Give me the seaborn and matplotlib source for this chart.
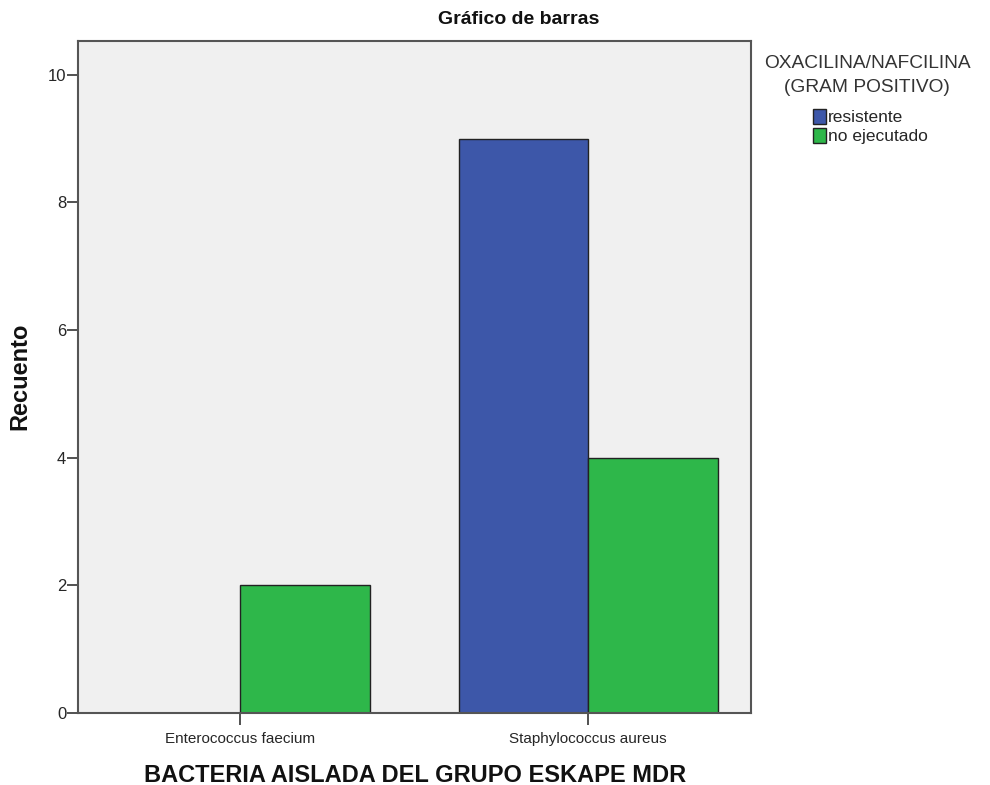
import matplotlib
matplotlib.use("Agg")
import matplotlib.pyplot as plt
import seaborn as sns
import pandas as pd
from matplotlib.patches import Patch

categories = ["Enterococcus faecium", "Staphylococcus aureus"]
series = ["resistente", "no ejecutado"]
resistente = [0, 9]
no_ejecutado = [2, 4]
colors = ["#3d57a9", "#2eb74a"]

rows = []
for i, c in enumerate(categories):
    rows.append({"cat": c, "grp": series[0], "n": resistente[i]})
    rows.append({"cat": c, "grp": series[1], "n": no_ejecutado[i]})
df = pd.DataFrame(rows)

sns.set_theme(style="white")
plt.rcParams["font.family"] = ["Liberation Sans", "DejaVu Sans"]

fig = plt.figure(figsize=(9.9, 7.85), dpi=100)
ax = fig.add_axes([78/990, 1-713/785, (751-78)/990, (713-41)/785])
ax.set_facecolor("#f0f0f0")

sns.barplot(data=df, x="cat", y="n", hue="grp", hue_order=series,
            palette=colors, width=0.744, edgecolor="#222222", linewidth=1.0,
            saturation=1, ax=ax, legend=False)

ax.set_xlim(-0.466, 1.468)
ax.set_ylim(0, 10.53)
ax.set_yticks([0, 2, 4, 6, 8, 10])
for s in ax.spines.values():
    s.set_color("#555555")
    s.set_linewidth(1.5)
ax.tick_params(axis="y", direction="out", length=8, width=1.2, color="#333333",
               labelsize=12, pad=0.5, left=True)
ax.tick_params(axis="x", direction="out", length=8.5, width=1.2, color="#333333",
               labelsize=11, pad=5, bottom=True)
ax.set_xlabel("")
ax.set_ylabel("")

fig.text(519/990, 1-20/785, "Gráfico de barras", ha="center", va="center",
         fontsize=14, fontweight="bold", color="#111111")
fig.text(20/990, 1-376/785, "Recuento", ha="center", va="center",
         rotation=90, fontsize=17, fontweight="bold", color="#111111")
fig.text(415/990, 1-775/785, "BACTERIA AISLADA DEL GRUPO ESKAPE MDR",
         ha="center", va="center", fontsize=17, fontweight="bold", color="#111111")

fig.text(867/990, 1-64/785, "OXACILINA/NAFCILINA", ha="center", va="center",
         fontsize=13.8, color="#333333")
fig.text(867/990, 1-88/785, "(GRAM POSITIVO)", ha="center", va="center",
         fontsize=13.8, color="#333333")
handles = [Patch(facecolor=colors[i], edgecolor="#222222", label=series[i]) for i in range(2)]
fig.legend(handles=handles, loc="upper left", bbox_to_anchor=(804/990, 1-100/785),
           frameon=False, fontsize=12.5, handlelength=0.75, handleheight=0.95,
           handletextpad=0.15, labelspacing=0.15, borderpad=0)

fig.savefig("out.png", dpi=100)
